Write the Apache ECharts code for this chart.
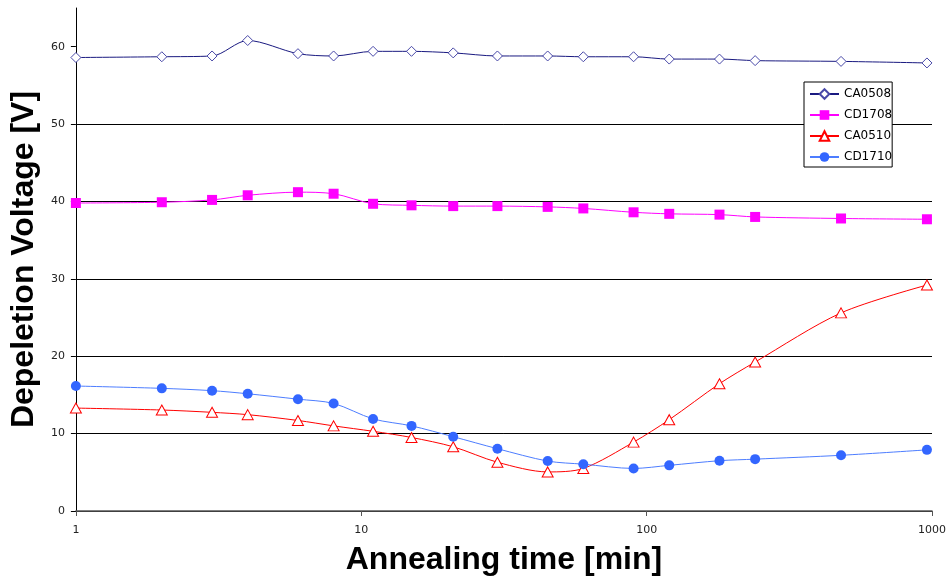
<!DOCTYPE html>
<html>
<head>
<meta charset="utf-8">
<script src="https://cdn.jsdelivr.net/npm/echarts@6/dist/echarts.min.js"></script>
<style>
html,body{margin:0;padding:0;background:#fff;}
#chart{width:951px;height:584px;}
</style>
</head>
<body>
<div id="chart"></div>
<script>
// Annealing time [min]
var times = [1, 2, 3, 4, 6, 8, 11, 15, 21, 30, 45, 60, 90, 120, 180, 240, 480, 960];
// Depletion voltage [V]
var CA0508 = [58.6, 58.7, 58.8, 60.8, 59.1, 58.8, 59.4, 59.4, 59.2, 58.8, 58.8, 58.7, 58.7, 58.4, 58.4, 58.2, 58.1, 57.9];
var CD1708 = [39.8, 39.9, 40.2, 40.8, 41.2, 41.0, 39.7, 39.5, 39.4, 39.4, 39.3, 39.1, 38.6, 38.4, 38.3, 38.0, 37.8, 37.7];
var CA0510 = [13.3, 13.05, 12.75, 12.45, 11.7, 11.0, 10.3, 9.5, 8.3, 6.3, 5.05, 5.5, 8.9, 11.8, 16.45, 19.25, 25.6, 29.2];
var CD1710 = [16.15, 15.85, 15.55, 15.15, 14.45, 13.9, 11.9, 11.0, 9.6, 8.05, 6.45, 6.05, 5.5, 5.9, 6.5, 6.7, 7.2, 7.9];
var seriesNames = ['CA0508', 'CD1708', 'CA0510', 'CD1710'];
var yTicks = [0, 10, 20, 30, 40, 50, 60];
var xTitle = 'Annealing time [min]';
var yTitle = 'Depeletion Voltage [V]';

function pairs(vals) {
  return times.map(function (t, i) { return [t, vals[i]]; });
}

var chart = echarts.init(document.getElementById('chart'), null, {renderer: 'canvas'});
var tickFont = {fontFamily: 'DejaVu Sans', fontSize: 11, color: '#222'};

chart.setOption({
  animation: false,
  backgroundColor: '#fff',
  grid: {left: 74, right: 19, top: 8, bottom: 73, containLabel: false},
  legend: {
    orient: 'vertical',
    left: 804,
    top: 82,
    backgroundColor: '#fff',
    borderColor: '#000',
    borderWidth: 1,
    padding: [6, 0, 4, 5],
    itemWidth: 29,
    itemHeight: 12,
    itemGap: 9,
    data: seriesNames,
    textStyle: {fontFamily: 'DejaVu Sans', fontSize: 12, color: '#000'}
  },
  xAxis: {
    type: 'log',
    logBase: 10,
    min: 1,
    max: 1000,
    name: xTitle,
    nameLocation: 'middle',
    nameGap: 33,
    nameTextStyle: {fontFamily: 'Liberation Sans', fontWeight: 'bold', fontSize: 32, color: '#000'},
    axisLine: {show: true, lineStyle: {color: '#555', width: 1.5}},
    axisTick: {show: true, length: 5, lineStyle: {color: '#555'}},
    minorTick: {show: false},
    splitLine: {show: false},
    axisLabel: Object.assign({margin: 14, formatter: function (v) { return String(Math.round(v)); }}, tickFont)
  },
  yAxis: {
    type: 'value',
    min: 0,
    max: 65,
    interval: 10,
    name: yTitle,
    nameLocation: 'middle',
    nameGap: 33,
    nameRotate: 90,
    nameTextStyle: {fontFamily: 'Liberation Sans', fontWeight: 'bold', fontSize: 32, color: '#000'},
    axisLine: {show: true, lineStyle: {color: '#000', width: 1}},
    axisTick: {show: true, length: 5, customValues: yTicks, lineStyle: {color: '#000'}},
    axisLabel: Object.assign({margin: 11, customValues: yTicks}, tickFont),
    splitLine: {show: true, showMaxLine: false, lineStyle: {color: '#000', width: 1}}
  },
  series: [
    {
      name: seriesNames[0], type: 'line', data: pairs(CA0508), smooth: 0.3,
      symbol: 'diamond', symbolSize: 10,
      lineStyle: {color: '#1a1a80', width: 1},
      itemStyle: {color: '#fff', borderColor: '#4848a8', borderWidth: 1},
      emphasis: {disabled: true}
    },
    {
      name: seriesNames[1], type: 'line', data: pairs(CD1708), smooth: 0.3,
      symbol: 'rect', symbolSize: 10,
      lineStyle: {color: '#ff00ff', width: 1},
      itemStyle: {color: '#ff00ff', borderColor: '#ff00ff', borderWidth: 0},
      emphasis: {disabled: true}
    },
    {
      name: seriesNames[2], type: 'line', data: pairs(CA0510), smooth: 0.3,
      symbol: 'triangle', symbolSize: [11, 10],
      lineStyle: {color: '#ff0000', width: 1},
      itemStyle: {color: '#fff', borderColor: '#ff0000', borderWidth: 1},
      emphasis: {disabled: true}
    },
    {
      name: seriesNames[3], type: 'line', data: pairs(CD1710), smooth: 0.3,
      symbol: 'circle', symbolSize: 10,
      lineStyle: {color: '#4d7dff', width: 1},
      itemStyle: {color: '#3366ff', borderColor: '#3366ff', borderWidth: 0},
      emphasis: {disabled: true}
    }
  ]
});
</script>
</body>
</html>
